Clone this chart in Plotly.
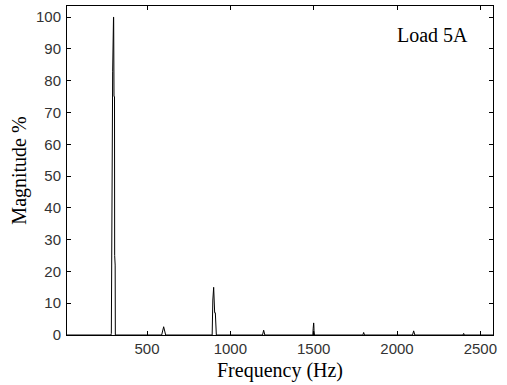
import plotly.graph_objects as go

# Spectrum data (Hz, % magnitude)
freq = [20, 284, 286, 287, 289, 294, 299, 300, 302, 305, 306, 309, 310, 400,
        588, 600, 612,
        891, 892, 895, 900, 902, 906, 910, 913, 916,
        1193, 1200, 1207,
        1495, 1497, 1499, 1500, 1501, 1502, 1505,
        1795, 1800, 1805,
        2093, 2100, 2107,
        2396, 2400, 2404, 2576]
mag = [0, 0, 0.5, 17, 50, 83, 100, 100, 75, 75, 25, 22, 0, 0,
       0, 2.6, 0,
       0, 7, 11, 15, 12, 7, 7, 0.3, 0,
       0, 1.5, 0,
       0, 2, 3, 3.8, 3.2, 1.5, 0,
       0, 0.8, 0,
       0, 1.3, 0,
       0, 0.5, 0, 0]

x_ticks = [500, 1000, 1500, 2000, 2500]
y_ticks = [0, 10, 20, 30, 40, 50, 60, 70, 80, 90, 100]

fig = go.Figure()
fig.add_trace(go.Scatter(x=freq, y=mag, mode="lines",
                         line=dict(color="black", width=1), showlegend=False))

tickfont = dict(family="Liberation Sans, Arial, sans-serif", size=15, color="#333")
titlefont = dict(family="Liberation Serif, Times New Roman, serif", size=20, color="black")

fig.update_layout(
    width=507, height=385,
    margin=dict(l=67, r=14, t=6, b=50),
    paper_bgcolor="white", plot_bgcolor="white",
    xaxis=dict(range=[20, 2576], tickvals=x_ticks, ticks="inside", ticklen=4,
               tickcolor="black", showline=True, linecolor="black", linewidth=1,
               mirror="ticks", showgrid=False, zeroline=False, tickfont=tickfont,
               ticklabelstandoff=0,
               title=dict(text="Frequency (Hz)", font=titlefont, standoff=6)),
    yaxis=dict(range=[0, 103.5], tickvals=y_ticks, ticks="inside", ticklen=4,
               tickcolor="black", showline=True, linecolor="black", linewidth=1,
               mirror="ticks", showgrid=False, zeroline=False, tickfont=tickfont,
               ticklabelstandoff=2,
               title=dict(text="Magnitude %", font=titlefont, standoff=3)),
    annotations=[dict(x=1990, y=94.5, xref="x", yref="y", text="Load 5A",
                      showarrow=False, xanchor="left", yanchor="middle",
                      font=titlefont)],
)

fig.write_html("out.html")
